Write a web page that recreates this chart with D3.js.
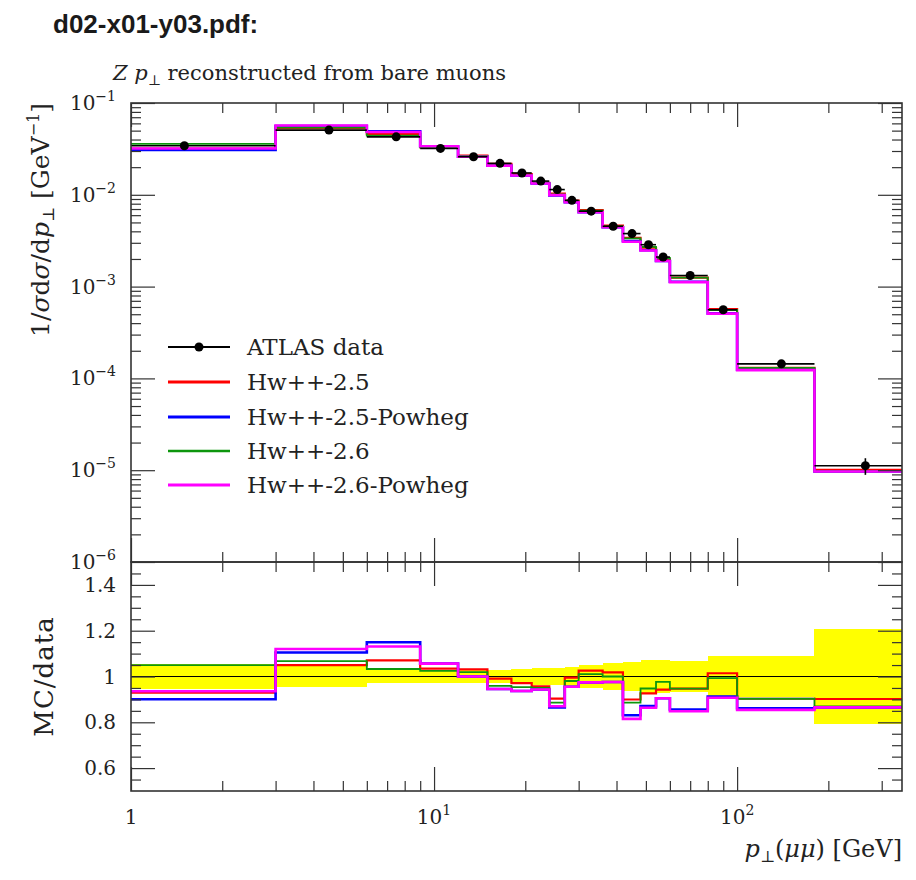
<!DOCTYPE html>
<html>
<head>
<meta charset="utf-8">
<script src="https://cdn.jsdelivr.net/npm/d3@7"></script>
<style>
  body { margin: 0; background: #fff; }
  svg text { font-family: "DejaVu Serif", serif; fill: #222; }
</style>
</head>
<body>
<svg id="chart" width="916" height="880"></svg>
<script>
// Bin edges of the Z pT histogram [GeV]
const binEdges = [0, 3, 6, 9, 12, 15, 18, 21, 24, 27, 30, 36, 42, 48, 54, 60, 80, 100, 180, 350];

// ATLAS data: 1/sigma dsigma/dpT [GeV^-1] and its uncertainty
const dataValues = [0.0342, 0.0507, 0.0428, 0.032, 0.026, 0.022, 0.0173, 0.0141, 0.0114, 0.0087,
  0.00663, 0.00454, 0.00378, 0.00286, 0.0021, 0.00132, 0.00056, 1.44e-4, 1.12e-5];
const dataErrors = [0.00188, 0.00238, 0.00128, 0.000864, 0.000702, 0.00066, 0.000571, 0.000508, 0.000445, 0.000365,
  0.000332, 0.000263, 0.000246, 0.000206, 0.000151, 0.0000898, 0.0000493, 1.30e-5, 2.30e-6];

// Generator predictions
const hw25 = [0.0318, 0.0532, 0.0458, 0.0331, 0.0268, 0.0218, 0.0168, 0.0135, 0.0103, 0.00866,
  0.0068, 0.00462, 0.0034, 0.00265, 0.00198, 0.00125, 0.000568, 1.30e-4, 1.01e-5];
const hw25Powheg = [0.0308, 0.056, 0.0492, 0.0338, 0.026, 0.0208, 0.0162, 0.0133, 0.00986, 0.00831,
  0.00646, 0.00443, 0.00314, 0.00249, 0.0019, 0.00113, 0.000511, 1.24e-4, 9.69e-6];
const hw26 = [0.0359, 0.0541, 0.0442, 0.0328, 0.0265, 0.0211, 0.0165, 0.0134, 0.0101, 0.00853,
  0.0067, 0.00454, 0.00335, 0.00271, 0.00205, 0.00125, 0.000556, 1.30e-4, 9.74e-6];
const hw26Powheg = [0.032, 0.0568, 0.0484, 0.0338, 0.026, 0.0208, 0.0162, 0.0133, 0.00992, 0.00831,
  0.00646, 0.00443, 0.00308, 0.00247, 0.0019, 0.00112, 0.000508, 1.23e-4, 9.69e-6];

const seriesNames = ["Hw++-2.5", "Hw++-2.5-Powheg", "Hw++-2.6", "Hw++-2.6-Powheg"];
const dataName = "ATLAS data";

// Axis ticks
const xMajorTicks = [1, 10, 100];
const xMajorExponents = [0, 1, 2];
const yMainExponents = [-1, -2, -3, -4, -5, -6];
const ratioTicks = [0.6, 0.8, 1, 1.2, 1.4];
const ratioTickLabels = ["0.6", "0.8", "1", "1.2", "1.4"];

// Styling
const seriesStyle = [
  { color: "#ff0000", width: 2.2 },
  { color: "#0000ff", width: 2.6 },
  { color: "#0d960d", width: 1.8 },
  { color: "#ff00ff", width: 2.6 }
];
const seriesValues = [hw25, hw25Powheg, hw26, hw26Powheg];

const L = 131, R = 902, T = 103, M = 562, B = 791;
const svg = d3.select("#chart");

const x = d3.scaleLog().domain([1, 350]).range([L, R]);
const yMain = d3.scaleLog().domain([1e-6, 1e-1]).range([M, T]);
const yRatio = d3.scaleLinear().domain([0.5, 1.5]).range([B, M]);

// clip regions for each panel
const defs = svg.append("defs");
defs.append("clipPath").attr("id", "clipMain")
  .append("rect").attr("x", L).attr("y", T).attr("width", R - L).attr("height", M - T);
defs.append("clipPath").attr("id", "clipRatio")
  .append("rect").attr("x", L).attr("y", M).attr("width", R - L).attr("height", B - M);

// Titles
svg.append("text").attr("x", 53).attr("y", 33)
  .style("font-family", "'Liberation Sans', Arial, sans-serif")
  .style("font-weight", "bold").style("font-size", "26px").style("fill", "#1a1a1a")
  .text("d02-x01-y03.pdf:");

const sub = svg.append("text").attr("x", 113).attr("y", 80).style("font-size", "21px");
sub.append("tspan").style("font-style", "italic").text("Z p");
sub.append("tspan").attr("dy", 5).style("font-size", "14px").text("⊥");
sub.append("tspan").attr("dy", -5).text(" reconstructed from bare muons");

// Step-histogram geometry
function stepPoints(vals) {
  const pts = [];
  vals.forEach((v, i) => {
    pts.push([Math.max(binEdges[i], 1), v]);
    pts.push([binEdges[i + 1], v]);
  });
  return pts;
}
const lineMain = d3.line().x(d => x(d[0])).y(d => yMain(d[1]));
const lineRatio = d3.line().x(d => x(d[0])).y(d => yRatio(d[1]));

// ---------- main panel ----------
const gMain = svg.append("g").attr("clip-path", "url(#clipMain)");
seriesValues.forEach((vals, s) => {
  gMain.append("path").datum(stepPoints(vals)).attr("d", lineMain)
    .attr("fill", "none").attr("stroke", seriesStyle[s].color)
    .attr("stroke-width", seriesStyle[s].width).attr("stroke-linejoin", "miter");
});

const bins = dataValues.map((v, i) => ({
  lo: Math.max(binEdges[i], 1), hi: binEdges[i + 1],
  mid: (binEdges[i] + binEdges[i + 1]) / 2, v: v, e: dataErrors[i]
}));
const dataG = gMain.append("g");
dataG.selectAll("line.xerr").data(bins).join("line")
  .attr("x1", d => x(d.lo)).attr("x2", d => x(d.hi))
  .attr("y1", d => yMain(d.v)).attr("y2", d => yMain(d.v))
  .attr("stroke", "#000").attr("stroke-width", 1.6);
dataG.selectAll("line.yerr").data(bins).join("line")
  .attr("x1", d => x(d.mid)).attr("x2", d => x(d.mid))
  .attr("y1", d => yMain(d.v - d.e)).attr("y2", d => yMain(d.v + d.e))
  .attr("stroke", "#000").attr("stroke-width", 1.6);
dataG.selectAll("circle").data(bins).join("circle")
  .attr("cx", d => x(d.mid)).attr("cy", d => yMain(d.v)).attr("r", 4.5)
  .attr("fill", "#000");

// ---------- ratio panel ----------
const gRatio = svg.append("g").attr("clip-path", "url(#clipRatio)");
gRatio.selectAll("rect.band").data(bins).join("rect")
  .attr("x", d => x(d.lo)).attr("width", d => x(d.hi) - x(d.lo))
  .attr("y", d => yRatio(1 + d.e / d.v))
  .attr("height", d => yRatio(1 - d.e / d.v) - yRatio(1 + d.e / d.v))
  .attr("fill", "#ffff00").attr("shape-rendering", "crispEdges");
gRatio.append("line").attr("x1", L).attr("x2", R)
  .attr("y1", yRatio(1)).attr("y2", yRatio(1))
  .attr("stroke", "#000").attr("stroke-width", 1.2);
seriesValues.forEach((vals, s) => {
  const ratios = vals.map((v, i) => v / dataValues[i]);
  gRatio.append("path").datum(stepPoints(ratios)).attr("d", lineRatio)
    .attr("fill", "none").attr("stroke", seriesStyle[s].color)
    .attr("stroke-width", seriesStyle[s].width);
});

// ---------- frames and ticks ----------
const axisColor = "#333";
function styleAxis(g) {
  g.select(".domain").remove();
  g.selectAll("line").attr("stroke", axisColor).attr("stroke-width", 1.2);
  g.selectAll("text").remove();
}
const xMinor = [];
[1, 10, 100].forEach(dec => d3.range(2, 10).forEach(k => { if (k * dec < 350) xMinor.push(k * dec); }));
const yMinor = [];
yMainExponents.slice(1).forEach(e => d3.range(2, 10).forEach(k => yMinor.push(k * Math.pow(10, e))));
const rMinor = d3.range(11, 30).map(k => k * 0.05).filter(v => !ratioTicks.some(t => Math.abs(t - v) < 1e-6));
const yMajorVals = yMainExponents.map(e => Math.pow(10, e));

const majorLen = 24, minorLen = 10;
function xTicks(yPos, up) {
  const mk = up ? d3.axisBottom : d3.axisTop;
  svg.append("g").attr("transform", `translate(0,${yPos})`)
    .call(mk(x).tickValues(xMajorTicks).tickSize(-majorLen)).call(styleAxis);
  svg.append("g").attr("transform", `translate(0,${yPos})`)
    .call(mk(x).tickValues(xMinor).tickSize(-minorLen)).call(styleAxis);
}
xTicks(T, false); xTicks(M, true); xTicks(M, false); xTicks(B, true);

function yTicks(scale, majors, minors) {
  svg.append("g").attr("transform", `translate(${L},0)`)
    .call(d3.axisLeft(scale).tickValues(majors).tickSize(-majorLen)).call(styleAxis);
  svg.append("g").attr("transform", `translate(${L},0)`)
    .call(d3.axisLeft(scale).tickValues(minors).tickSize(-minorLen)).call(styleAxis);
  svg.append("g").attr("transform", `translate(${R},0)`)
    .call(d3.axisRight(scale).tickValues(majors).tickSize(-majorLen)).call(styleAxis);
  svg.append("g").attr("transform", `translate(${R},0)`)
    .call(d3.axisRight(scale).tickValues(minors).tickSize(-minorLen)).call(styleAxis);
}
yTicks(yMain, yMajorVals, yMinor);
yTicks(yRatio, ratioTicks, rMinor);

svg.append("rect").attr("x", L).attr("y", T).attr("width", R - L).attr("height", M - T)
  .attr("fill", "none").attr("stroke", axisColor).attr("stroke-width", 1.6);
svg.append("rect").attr("x", L).attr("y", M).attr("width", R - L).attr("height", B - M)
  .attr("fill", "none").attr("stroke", axisColor).attr("stroke-width", 1.6);

// ---------- tick labels ----------
yMainExponents.forEach(e => {
  const t = svg.append("text").attr("x", 116).attr("y", yMain(Math.pow(10, e)) + 7)
    .attr("text-anchor", "end").style("font-size", "20px");
  t.append("tspan").text("10");
  t.append("tspan").attr("dy", -9).style("font-size", "14px").text("−" + (-e));
});
ratioTicks.forEach((v, i) => {
  svg.append("text").attr("x", 116).attr("y", yRatio(v) + 7)
    .attr("text-anchor", "end").style("font-size", "20px").text(ratioTickLabels[i]);
});
xMajorTicks.forEach((v, i) => {
  const t = svg.append("text").attr("x", x(v)).attr("y", 824)
    .attr("text-anchor", "middle").style("font-size", "20px");
  t.append("tspan").text(xMajorExponents[i] === 0 ? "1" : "10");
  if (xMajorExponents[i] !== 0)
    t.append("tspan").attr("dy", -9).style("font-size", "14px").text(String(xMajorExponents[i]));
});

// ---------- axis titles ----------
const yl = svg.append("text").attr("transform", `translate(49,${T}) rotate(-90)`)
  .attr("text-anchor", "end").style("font-size", "25px");
yl.append("tspan").text("1/");
yl.append("tspan").style("font-style", "italic").text("σ");
yl.append("tspan").text("d");
yl.append("tspan").style("font-style", "italic").text("σ");
yl.append("tspan").text("/d");
yl.append("tspan").style("font-style", "italic").text("p");
yl.append("tspan").attr("dy", 5).style("font-size", "16px").text("⊥");
yl.append("tspan").attr("dy", -5).text(" [GeV");
yl.append("tspan").attr("dy", -10).style("font-size", "16px").text("−1");
yl.append("tspan").attr("dy", 10).text("]");

svg.append("text").attr("transform", `translate(53,${yRatio(1)}) rotate(-90)`)
  .attr("text-anchor", "middle").style("font-size", "26px").style("letter-spacing", "1px")
  .text("MC/data");

const xl = svg.append("text").attr("x", R).attr("y", 857)
  .attr("text-anchor", "end").style("font-size", "24px");
xl.append("tspan").style("font-style", "italic").text("p");
xl.append("tspan").attr("dy", 5).style("font-size", "16px").text("⊥");
xl.append("tspan").attr("dy", -5).text("(");
xl.append("tspan").style("font-style", "italic").text("μμ");
xl.append("tspan").text(") [GeV]");

// ---------- legend ----------
const legendRows = [347, 382, 417, 451, 485];
const leg = svg.append("g");
leg.append("line").attr("x1", 168).attr("x2", 230)
  .attr("y1", legendRows[0]).attr("y2", legendRows[0])
  .attr("stroke", "#000").attr("stroke-width", 1.8);
leg.append("circle").attr("cx", 199).attr("cy", legendRows[0]).attr("r", 4.5).attr("fill", "#000");
leg.append("text").attr("x", 247).attr("y", legendRows[0] + 8).style("font-size", "23px").text(dataName);
seriesNames.forEach((name, s) => {
  const yy = legendRows[s + 1];
  leg.append("line").attr("x1", 168).attr("x2", 230).attr("y1", yy).attr("y2", yy)
    .attr("stroke", seriesStyle[s].color).attr("stroke-width", seriesStyle[s].width + 0.6);
  leg.append("text").attr("x", 247).attr("y", yy + 8).style("font-size", "23px").text(name);
});
</script>
</body>
</html>
